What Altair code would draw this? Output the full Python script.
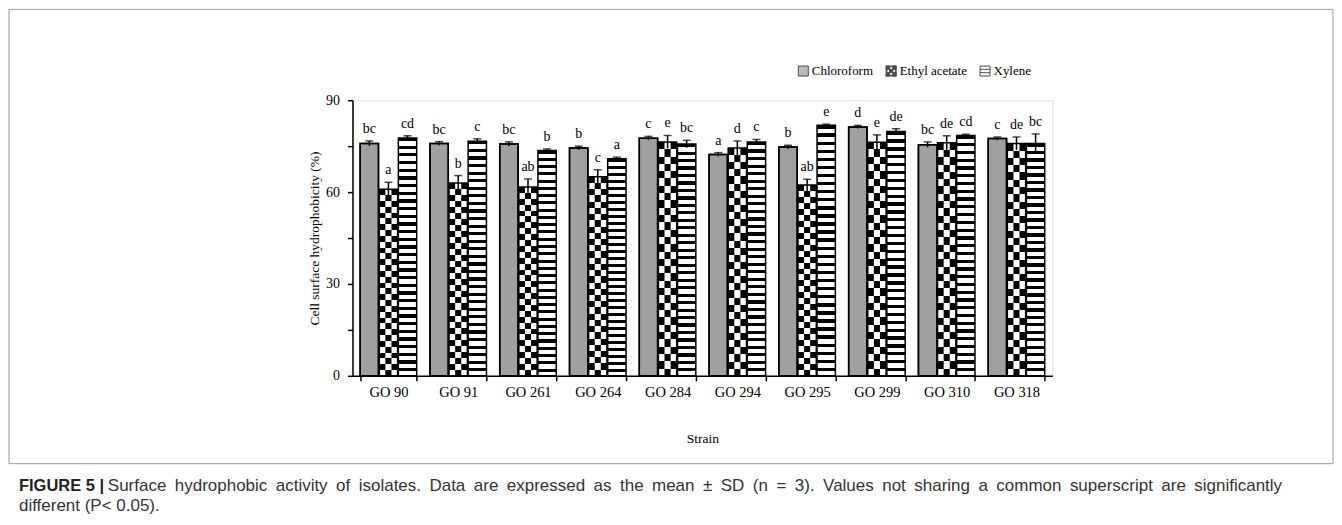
import altair as alt
import pandas as pd

# ---------------- data ----------------
strains = ["GO 90", "GO 91", "GO 261", "GO 264", "GO 284",
           "GO 294", "GO 295", "GO 299", "GO 310", "GO 318"]
solvents = ["Chloroform", "Ethyl acetate", "Xylene"]

chloroform = [75.9, 75.9, 75.7, 74.4, 77.6, 72.3, 74.7, 81.3, 75.5, 77.5]
ethyl_acetate = [60.9, 63.0, 61.7, 65.0, 76.4, 74.4, 62.3, 76.3, 76.1, 75.9]
xylene = [77.7, 76.6, 73.6, 70.9, 75.7, 76.4, 81.8, 79.8, 78.5, 75.9]

chloroform_sd = [0.8, 0.6, 0.7, 0.6, 0.6, 0.6, 0.6, 0.5, 0.9, 0.5]
ethyl_acetate_sd = [2.3, 2.4, 2.6, 2.3, 2.1, 2.3, 1.9, 2.4, 2.3, 2.1]
xylene_sd = [0.7, 0.8, 0.5, 0.5, 1.2, 0.8, 0.4, 0.9, 0.4, 3.1]

chloroform_letters = ["bc", "bc", "bc", "b", "c", "a", "b", "d", "bc", "c"]
ethyl_acetate_letters = ["a", "b", "ab", "c", "e", "d", "ab", "e", "de", "de"]
xylene_letters = ["cd", "c", "b", "a", "bc", "c", "e", "de", "cd", "bc"]

y_ticks = [0, 15, 30, 45, 60, 75, 90]

caption_bold = "FIGURE 5 |"
caption_line1 = ("Surface hydrophobic activity of isolates. Data are expressed as the mean \u00b1 SD (n = 3). "
                 "Values not sharing a common superscript are significantly")
caption_line2 = "different (P< 0.05)."

rows = []
for vals, sds, lets, s in [(chloroform, chloroform_sd, chloroform_letters, solvents[0]),
                           (ethyl_acetate, ethyl_acetate_sd, ethyl_acetate_letters, solvents[1]),
                           (xylene, xylene_sd, xylene_letters, solvents[2])]:
    for st, v, sd, l in zip(strains, vals, sds, lets):
        rows.append({"strain": st, "solvent": s, "value": v, "lo": v - sd, "hi": v + sd, "letter": l})
df = pd.DataFrame(rows)

SERIF = "Liberation Serif"
SANS = "Liberation Sans"


def stripes(n, black_frac, start_black=True):
    stops = []
    for k in range(n):
        a = k / n
        b = (k + black_frac) / n
        c = (k + 1) / n
        first, second = ("black", "white") if start_black else ("white", "black")
        stops += [alt.GradientStop(color=first, offset=a), alt.GradientStop(color=first, offset=b),
                  alt.GradientStop(color=second, offset=b), alt.GradientStop(color=second, offset=c)]
    return alt.LinearGradient(gradient="linear", stops=stops, x1=0, x2=0, y1=0, y2=1)


x_enc = alt.X("strain:N", sort=strains,
              scale=alt.Scale(paddingInner=0.19, paddingOuter=0.11),
              axis=alt.Axis(title="Strain", labelAngle=0, labelFont=SERIF, labelFontSize=14.5,
                            labelColor="black", tickBand="extent", tickSize=5, tickColor="black",
                            tickWidth=1.5, domainColor="black", domainWidth=1.5, labelPadding=5,
                            titleFont=SERIF, titleFontSize=13.5, titleFontWeight="normal",
                            titleColor="black", titlePadding=32, grid=False))
xo_enc = alt.XOffset("solvent:N", sort=solvents, scale=alt.Scale(paddingInner=0.04))
y_enc = alt.Y("value:Q", scale=alt.Scale(domain=[0, 90], nice=False),
              axis=alt.Axis(title="Cell surface hydrophobicity (%)", values=y_ticks,
                            labelExpr="datum.value % 30 == 0 ? datum.label : ''",
                            labelFont=SERIF, labelFontSize=14, labelColor="black", labelPadding=8,
                            tickSize=5, tickColor="black", tickWidth=1.5, domainColor="black",
                            domainWidth=1.5, titleFont=SERIF, titleFontSize=13.5,
                            titleFontWeight="normal", titleColor="black", titlePadding=4, grid=False))

base = alt.Chart(df)

chl = base.transform_filter(alt.datum.solvent == solvents[0]).mark_bar(
    fill="#a0a0a0", stroke="black", strokeWidth=1.5).encode(x=x_enc, xOffset=xo_enc, y=y_enc)
ea_a = base.transform_filter(alt.datum.solvent == solvents[1]).mark_bar(
    fill=stripes(16, 0.5, True)).encode(x=x_enc, xOffset=xo_enc, y=y_enc)
ea_b = base.transform_filter(alt.datum.solvent == solvents[1]).mark_bar(
    fill=stripes(16, 0.5, False), width=6.1).encode(x=x_enc, xOffset=xo_enc, y=y_enc)
xyl = base.transform_filter(alt.datum.solvent == solvents[2]).mark_bar(
    fill=stripes(31, 0.42, True)).encode(x=x_enc, xOffset=xo_enc, y=y_enc)
outline = base.mark_bar(fillOpacity=0, fill="white", stroke="black", strokeWidth=1.5).encode(
    x=x_enc, xOffset=xo_enc, y=y_enc)

err = base.mark_rule(color="black", strokeWidth=1.5).encode(
    x=x_enc, xOffset=xo_enc, y=alt.Y("lo:Q"), y2="hi:Q")
cap = base.mark_tick(color="black", orient="horizontal", size=8, thickness=1.5).encode(
    x=x_enc, xOffset=xo_enc, y=alt.Y("hi:Q"))
letters = base.mark_text(font=SERIF, fontSize=14, baseline="bottom", dy=-5, color="black").encode(
    x=x_enc, xOffset=xo_enc, y=alt.Y("hi:Q"), text="letter:N")

shape_paths = [
    "square",
    ("M-1,-1h0.667v0.667h-0.667z M0.333,-1h0.667v0.667h-0.667z M-0.333,-0.333h0.667v0.667h-0.667z "
     "M-1,0.333h0.667v0.667h-0.667z M0.333,0.333h0.667v0.667h-0.667z "
     "M-1,-1H1V-0.85H-1z M-1,0.85H1V1H-1z M-1,-1H-0.85V1H-1z M0.85,-1H1V1H0.85z"),
    "M-1,-1H1V1H-1Z M-1,-0.33H1 M-1,0.33H1",
]
legend_pts = base.mark_point(filled=True, size=0).encode(
    x=x_enc, xOffset=xo_enc, y=y_enc,
    color=alt.Color("solvent:N", sort=solvents,
                    scale=alt.Scale(domain=solvents, range=["#a0a0a0", "black", "white"]),
                    legend=alt.Legend(title=None, orient="none", legendX=445, legendY=-36,
                                      direction="horizontal", columns=3, symbolSize=100,
                                      symbolStrokeColor="black", symbolStrokeWidth=1,
                                      labelFont=SERIF, labelFontSize=13, labelColor="black",
                                      labelOffset=2, columnPadding=10, padding=0)),
    shape=alt.Shape("solvent:N", sort=solvents,
                    scale=alt.Scale(domain=solvents, range=shape_paths)))

one = pd.DataFrame({"k": [0]})
frame = alt.Chart(one).mark_rect(fill="white", fillOpacity=0, stroke="#9a9a9a", strokeWidth=1).encode(
    x=alt.value(-344), x2=alt.value(982), y=alt.value(-91), y2=alt.value(364))
cap_b = alt.Chart(one).mark_text(text=caption_bold, font=SANS, fontSize=16.5,
                                 fontWeight="bold", color="#222222", align="left",
                                 baseline="alphabetic").encode(x=alt.value(-334), y=alt.value(391))
cap_1 = alt.Chart(one).mark_text(text=caption_line1.replace(" ", "\u2002"), font=SANS, fontSize=17,
                                 color="#333333", align="left",
                                 baseline="alphabetic").encode(x=alt.value(-245), y=alt.value(391))
cap_2 = alt.Chart(one).mark_text(text=caption_line2, font=SANS, fontSize=17,
                                 color="#333333", align="left",
                                 baseline="alphabetic").encode(x=alt.value(-334), y=alt.value(411))

chart = alt.layer(frame, chl, ea_a, ea_b, xyl, outline, err, cap, letters, legend_pts,
                  cap_b, cap_1, cap_2).properties(
    width=701, height=276, padding=0
).configure_view(stroke=None).configure(background="white")

chart.save("out.html", embed_options={"renderer": "svg", "actions": False})
